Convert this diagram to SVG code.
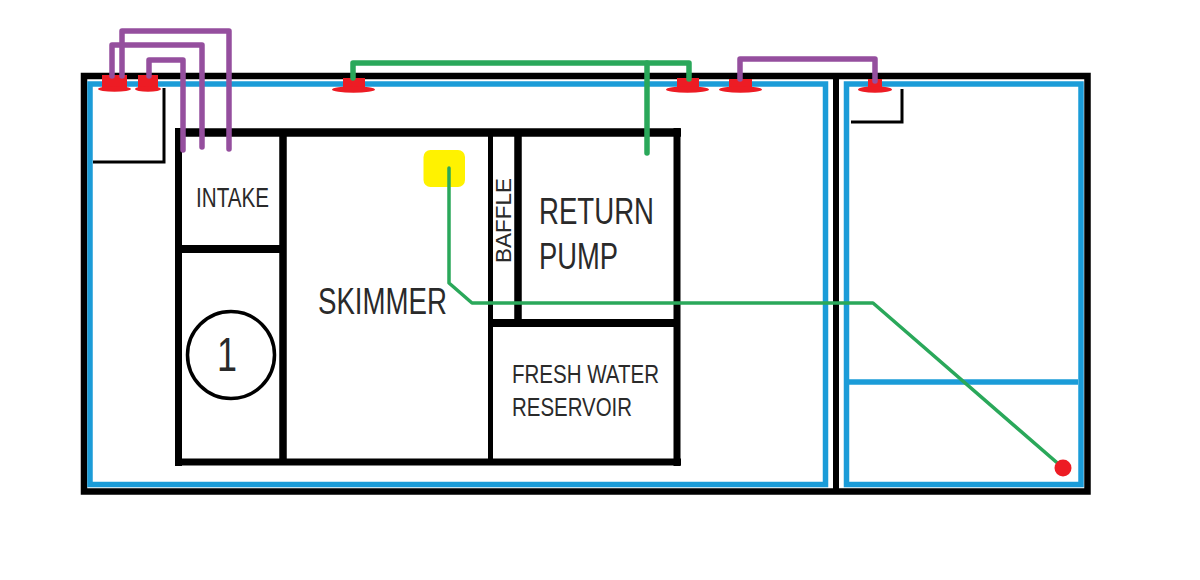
<svg xmlns="http://www.w3.org/2000/svg" width="1200" height="580" viewBox="0 0 1200 580">
<style>
.blk{fill:none;stroke:#000}
.blu{fill:none;stroke:#1b9cd8;stroke-width:5.5}
.pur{fill:none;stroke:#954f9e;stroke-width:5.5;stroke-linecap:round;stroke-linejoin:round}
.grn{fill:none;stroke:#2aa85a;stroke-linecap:round;stroke-linejoin:round}
.red{fill:#ed1c24}
text{font-family:"Liberation Sans",sans-serif;fill:#2a2a2a}
</style>
<rect width="1200" height="580" fill="#fff"/>
<g id="tank">
<rect class="blk" x="84" y="76" width="1003.500" height="415.500" stroke-width="6.500"/>
<path class="blk" d="M836 76V492" stroke-width="6"/>
<rect class="blu" x="90" y="84" width="735.500" height="400.500"/>
<rect class="blu" x="846.500" y="84" width="234.500" height="400.500"/>
<path class="blu" d="M849 382H1078"/>
<path class="blk" d="M93 162H164V88" stroke-width="3"/>
<path class="blk" d="M851 122H902V89" stroke-width="3"/>
</g>
<g id="sump">
<path class="blk" stroke-width="7" d="M178.500 128V466M175 462H681M677 128V466"/>
<path class="blk" stroke-width="8.500" d="M175 132.500H681"/>
<path class="blk" stroke-width="7.500" d="M283 132V462M518 134V322"/>
<path class="blk" stroke-width="8" d="M179 249H283M491 323H677"/>
<path class="blk" stroke-width="5" d="M490.500 134V462"/>
</g>
<g id="intake"><text x="196" y="207" font-size="28" textLength="73" lengthAdjust="spacingAndGlyphs">INTAKE</text></g>
<g id="pump-1"><circle cx="231" cy="355" r="43.500" fill="#fff" stroke="#000" stroke-width="3.500"/><text x="217" y="371" font-size="48" textLength="20" lengthAdjust="spacingAndGlyphs">1</text></g>
<g id="skimmer"><text x="318" y="314" font-size="36" textLength="129" lengthAdjust="spacingAndGlyphs">SKIMMER</text></g>
<g id="baffle"><text transform="translate(511 263) rotate(-90)" font-size="22" textLength="85" lengthAdjust="spacingAndGlyphs">BAFFLE</text></g>
<g id="return-pump"><text x="539" y="224" font-size="36" textLength="115" lengthAdjust="spacingAndGlyphs">RETURN</text><text x="539" y="269" font-size="36" textLength="79" lengthAdjust="spacingAndGlyphs">PUMP</text></g>
<g id="reservoir"><text x="512" y="383" font-size="26" textLength="147" lengthAdjust="spacingAndGlyphs">FRESH WATER</text><text x="512" y="416" font-size="26" textLength="120" lengthAdjust="spacingAndGlyphs">RESERVOIR</text></g>
<g id="float-switch"><rect x="423.500" y="150" width="41.500" height="37" rx="7" fill="#fff200"/></g>
<g id="bulkheads" class="red">
<rect x="102" y="75" width="25" height="14"/><ellipse cx="114.500" cy="89" rx="16.500" ry="2.800"/>
<rect x="138" y="75" width="20" height="14"/><ellipse cx="148" cy="89" rx="13" ry="2.800"/>
<rect x="343" y="78" width="22" height="11"/><ellipse cx="353.500" cy="89.500" rx="21.500" ry="3.200"/>
<rect x="677" y="78" width="22" height="11"/><ellipse cx="687.500" cy="89.500" rx="21.500" ry="3.200"/>
<rect x="729" y="79" width="23" height="10"/><ellipse cx="740.500" cy="89.500" rx="21.500" ry="3.200"/>
<rect x="868" y="79" width="14" height="10"/><ellipse cx="875" cy="89.500" rx="17" ry="3.200"/>
</g>
<g id="connectors">
<path class="pur" d="M112 76V45H202V147"/>
<path class="pur" d="M122 76V31H229V149"/>
<path class="pur" d="M149 76V60H183V150"/>
<path class="pur" d="M740 79V59H875V81"/>
<path class="grn" stroke-width="5.500" d="M353 78V63H689V79"/>
<path class="grn" stroke-width="5.500" d="M647 63V153"/>
<path class="grn" stroke-width="3.500" d="M449 168V283L472 303H873L1062 467"/>
<circle class="red" cx="1063" cy="468" r="8.500"/>
</g>
</svg>
